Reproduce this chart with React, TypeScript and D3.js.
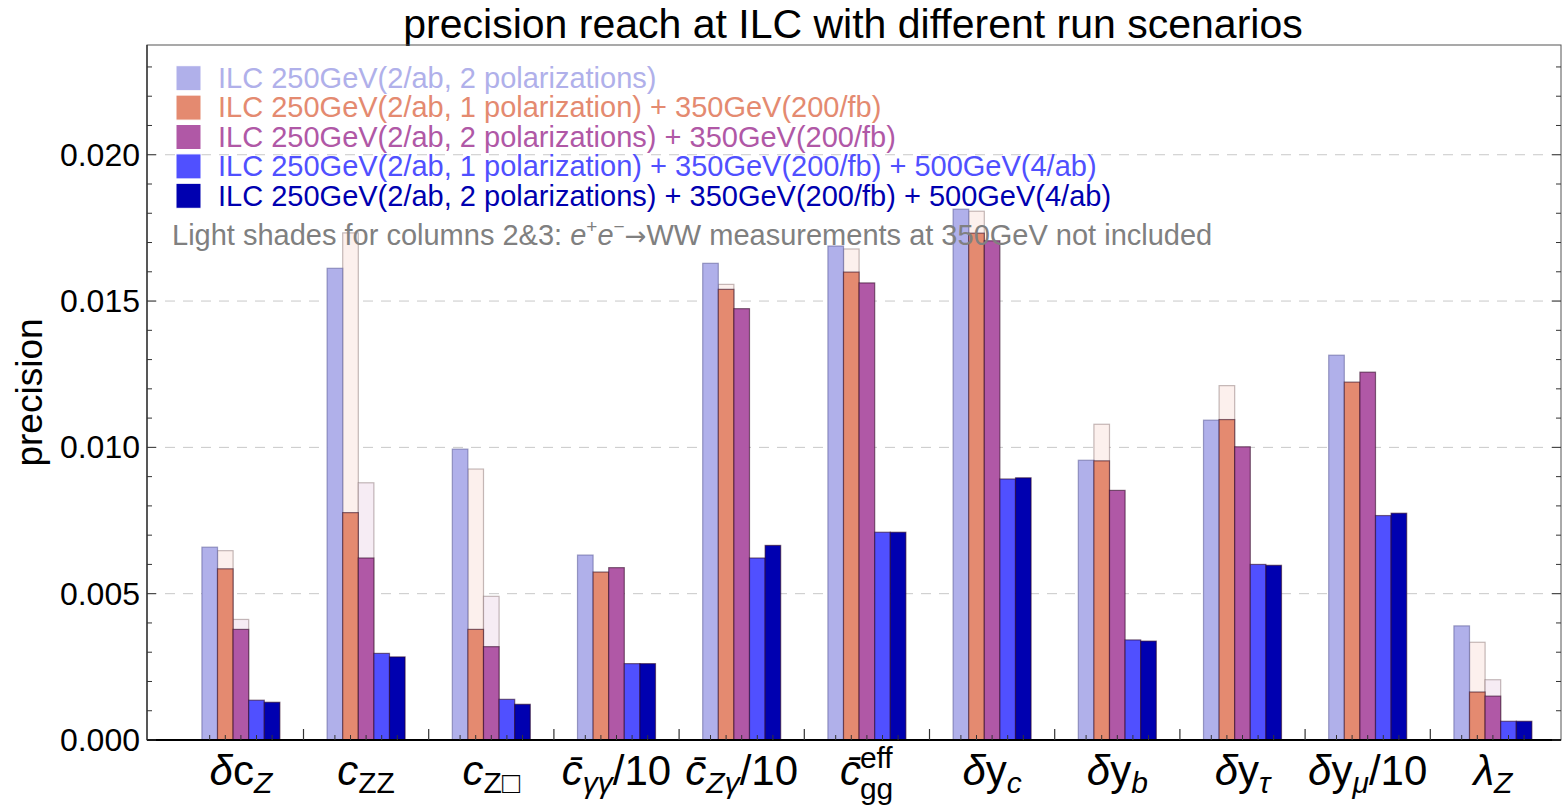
import * as d3 from "d3";

const categories = ["dcZ", "cZZ", "cZbox", "cgg10", "cZg10", "cggEff", "dyc", "dyb", "dytau", "dymu10", "lamZ"];

const seriesNames = [
  "ILC 250GeV(2/ab, 2 polarizations)",
  "ILC 250GeV(2/ab, 1 polarization) + 350GeV(200/fb)",
  "ILC 250GeV(2/ab, 2 polarizations) + 350GeV(200/fb)",
  "ILC 250GeV(2/ab, 1 polarization) + 350GeV(200/fb) + 500GeV(4/ab)",
  "ILC 250GeV(2/ab, 2 polarizations) + 350GeV(200/fb) + 500GeV(4/ab)",
];
const seriesColors = ["#b0b0ea", "#e48a70", "#b058a6", "#5050ff", "#0000b0"];

const s250pol2 = [0.00659, 0.01612, 0.00994, 0.00632, 0.01629, 0.01688, 0.01814, 0.00956, 0.01093, 0.01315, 0.0039];
const s350pol1 = [0.00585, 0.00777, 0.00378, 0.00574, 0.0154, 0.01599, 0.01732, 0.00954, 0.01095, 0.01223, 0.00164];
const s350pol2 = [0.00378, 0.00622, 0.00319, 0.00589, 0.01474, 0.01562, 0.01706, 0.00853, 0.01002, 0.01257, 0.0015];
const s500pol1 = [0.00136, 0.00296, 0.00139, 0.00261, 0.00622, 0.0071, 0.00892, 0.00342, 0.006, 0.00767, 0.00064];
const s500pol2 = [0.00129, 0.00284, 0.00122, 0.00261, 0.00665, 0.0071, 0.00896, 0.00338, 0.00597, 0.00775, 0.00064];
// without e+e- -> WW at 350GeV (light shades, columns 2 & 3)
const noWWpol1 = [0.00647, 0.01733, 0.00926, null, 0.01557, 0.01678, 0.01807, 0.01079, 0.01211, null, 0.00334];
const noWWpol2 = [0.00412, 0.00879, 0.00491, null, null, null, null, null, null, null, 0.00206];

const yTicks = [0, 0.005, 0.01, 0.015, 0.02];

const series = [s250pol2, s350pol1, s350pol2, s500pol1, s500pol2];
const lightSeries: [number, (number | null)[], string][] = [
  [1, noWWpol1, "#fcf0ed"],
  [2, noWWpol2, "#f6ecf4"],
];

const W = 1563;
const H = 807;
const left = 147, right = 1561, top = 45, bottom = 740;
const font = "'Liberation Sans', Arial, sans-serif";

const big = 42, sub = 30;

function XLabel({ id, cx }: { id: string; cx: number }) {
  const it = { fontStyle: "italic" as const };
  const base = 785;
  if (id === "cggEff") {
    return (
      <g fill="#000">
        <text x={cx - 6} y={base} fontSize={big} textAnchor="end" style={it}>c̄</text>
        <text x={cx - 7} y={base - 17} fontSize={sub}>eff</text>
        <text x={cx - 7} y={base + 14} fontSize={sub}>gg</text>
      </g>
    );
  }
  let parts;
  switch (id) {
    case "dcZ":
      parts = (<><tspan style={it}>δ</tspan><tspan>c</tspan><tspan style={it} fontSize={sub} dy={8}>Z</tspan></>);
      break;
    case "cZZ":
      parts = (<><tspan style={it}>c</tspan><tspan fontSize={sub} dy={8}>ZZ</tspan></>);
      break;
    case "cZbox":
      parts = (<><tspan style={it}>c</tspan><tspan fontSize={sub} dy={8}>Z□</tspan></>);
      break;
    case "cgg10":
      parts = (<><tspan style={it}>c̄</tspan><tspan style={it} fontSize={sub} dy={8}>γγ</tspan><tspan dy={-8} fontSize={big}>/10</tspan></>);
      break;
    case "cZg10":
      parts = (<><tspan style={it}>c̄</tspan><tspan style={it} fontSize={sub} dy={8}>Zγ</tspan><tspan dy={-8} fontSize={big}>/10</tspan></>);
      break;
    case "dyc":
      parts = (<><tspan style={it}>δ</tspan><tspan>y</tspan><tspan style={it} fontSize={sub} dy={8}>c</tspan></>);
      break;
    case "dyb":
      parts = (<><tspan style={it}>δ</tspan><tspan>y</tspan><tspan style={it} fontSize={sub} dy={8}>b</tspan></>);
      break;
    case "dytau":
      parts = (<><tspan style={it}>δ</tspan><tspan>y</tspan><tspan style={it} fontSize={sub} dy={8}>τ</tspan></>);
      break;
    case "dymu10":
      parts = (<><tspan style={it}>δ</tspan><tspan>y</tspan><tspan style={it} fontSize={sub} dy={8}>μ</tspan><tspan dy={-8} fontSize={big}>/10</tspan></>);
      break;
    default:
      parts = (<><tspan style={it}>λ</tspan><tspan style={it} fontSize={sub} dy={8}>Z</tspan></>);
  }
  return (
    <text x={cx} y={base} fontSize={big} textAnchor="middle" fill="#000">{parts}</text>
  );
}

export default function App() {
  const x = d3.scaleBand<string>().domain(categories).range([178.3, 178.3 + 11 * 125.2]).padding(0);
  const inner = d3.scaleBand<number>().domain(d3.range(5)).range([-39, 39]);
  const y = d3.scaleLinear().domain([0, 0.02375]).range([bottom, top]);
  const minor = d3.range(0, 0.0235, 0.001);

  return (
    <svg width={W} height={H} style={{ position: "absolute", left: 0, top: 0, background: "#fff" }} fontFamily={font}>
      <text x={853} y={38} fontSize={41} textAnchor="middle" fill="#000">
        precision reach at ILC with different run scenarios
      </text>

      {/* grid */}
      {yTicks.slice(1).map((t) => (
        <line key={t} x1={left} x2={right} y1={y(t)} y2={y(t)} stroke="#c8c8c8" strokeDasharray="10,8" strokeWidth={1} />
      ))}

      {/* light shades */}
      {lightSeries.map(([si, vals, fill]) =>
        vals.map((v, i) =>
          v == null ? null : (
            <rect key={`l${si}-${i}`} x={x(categories[i])! + x.bandwidth() / 2 + inner(si)!} y={y(v)}
              width={inner.bandwidth()} height={y(0) - y(v)} fill={fill} stroke="rgba(90,60,60,0.35)" strokeWidth={1.2} />
          )
        )
      )}

      {/* bars */}
      {series.map((vals, si) =>
        vals.map((v, i) => (
          <rect key={`b${si}-${i}`} x={x(categories[i])! + x.bandwidth() / 2 + inner(si)!} y={y(v)}
            width={inner.bandwidth()} height={y(0) - y(v)} fill={seriesColors[si]}
            stroke={si === 0 ? "rgba(90,90,150,0.55)" : "rgba(40,0,30,0.55)"} strokeWidth={1.2} />
        ))
      )}

      {/* frame */}
      <rect x={left} y={top} width={right - left} height={bottom - top} fill="none" stroke="#555" strokeWidth={1} />
      <line x1={left} x2={right} y1={bottom} y2={bottom} stroke="#000" strokeWidth={2} />
      <line x1={left} x2={left} y1={top} y2={bottom} stroke="#222" strokeWidth={1.2} />

      {/* y ticks */}
      {minor.map((t, k) => {
        const major = k % 5 === 0;
        const len = major ? 9 : 5;
        return (
          <g key={`t${k}`} stroke="#333" strokeWidth={1}>
            <line x1={left} x2={left + len} y1={y(t)} y2={y(t)} />
            <line x1={right} x2={right - len} y1={y(t)} y2={y(t)} />
          </g>
        );
      })}
      {yTicks.map((t) => (
        <text key={`yl${t}`} x={140} y={y(t) + 11} fontSize={32} textAnchor="end" fill="#000">
          {d3.format(".3f")(t)}
        </text>
      ))}
      <text transform={`translate(42,${(top + bottom) / 2}) rotate(-90)`} fontSize={37} textAnchor="middle" fill="#000">
        precision
      </text>

      {/* x ticks */}
      {categories.map((c) =>
        d3.range(5).map((si) => {
          const cx = x(c)! + x.bandwidth() / 2 + inner(si)! + inner.bandwidth() / 2;
          return <line key={`xt${c}${si}`} x1={cx} x2={cx} y1={bottom} y2={bottom - 5} stroke="#333" strokeWidth={1} />;
        })
      )}
      {categories.slice(1).map((c) => (
        <line key={`xb${c}`} x1={x(c)!} x2={x(c)!} y1={bottom} y2={bottom - 11} stroke="#333" strokeWidth={1.2} />
      ))}
      {categories.map((c) => (
        <XLabel key={`xl${c}`} id={c} cx={x(c)! + x.bandwidth() / 2} />
      ))}

      {/* legend */}
      {seriesNames.map((n, i) => (
        <g key={`lg${i}`}>
          <rect x={176} y={65.7 + i * 29.4} width={25} height={25} fill={seriesColors[i]} stroke="#fff" strokeWidth={1} />
          <text x={218} y={88 + i * 29.4} fontSize={29} fill={seriesColors[i]}>{n}</text>
        </g>
      ))}
      <text x={172} y={245} fontSize={29} fill="#808080">
        <tspan>Light shades for columns 2&amp;3: </tspan>
        <tspan fontStyle="italic">e</tspan>
        <tspan fontSize={19} dy={-12}>+</tspan>
        <tspan fontStyle="italic" dy={12}>e</tspan>
        <tspan fontSize={19} dy={-12}>−</tspan>
        <tspan dy={12} fontFamily="'DejaVu Sans', sans-serif" fontSize={26}>→</tspan>
        <tspan>WW measurements at 350GeV not included</tspan>
      </text>
    </svg>
  );
}
